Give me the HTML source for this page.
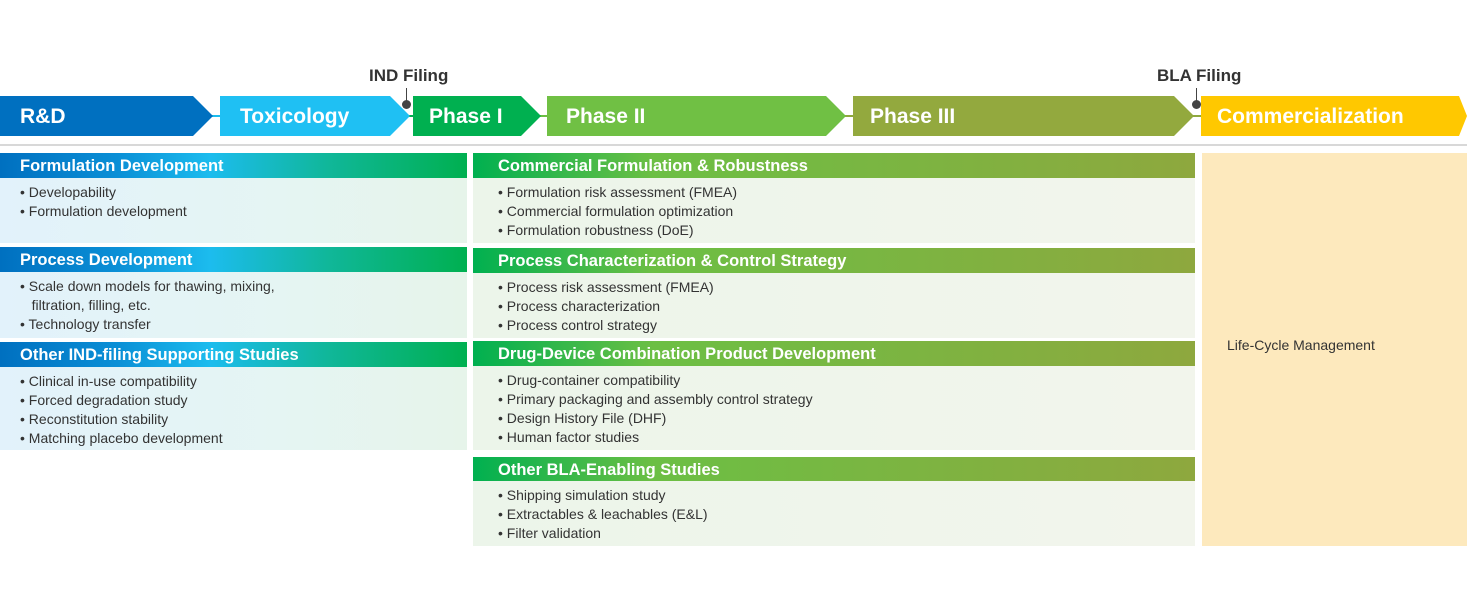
<!DOCTYPE html>
<html><head><meta charset="utf-8"><style>
*{margin:0;padding:0;box-sizing:border-box}
body{width:1467px;height:613px;background:#fff;position:relative;overflow:hidden;font-family:"Liberation Sans",sans-serif}
.a{position:absolute;top:96px;height:40px;color:#fff;font-weight:bold;font-size:21px;line-height:42px}
.ln{position:absolute;top:115px;height:2px}
.h{position:absolute;height:25px;color:#fff;font-weight:bold;font-size:16.5px;line-height:26px;padding-left:20px;white-space:nowrap}
.L{left:0;width:467px;background:linear-gradient(90deg,#0070c0 0%,#0a8fd6 25%,#1cbcee 45%,#10b79a 70%,#00b050 100%)}
.R{left:473px;width:722px;padding-left:25px;background:linear-gradient(90deg,#00b050 0%,#6cbf44 25%,#8ea83e 100%)}
.b{position:absolute;font-size:14px;line-height:19px;color:#333;padding-top:5px;white-space:nowrap}
.bl{left:0;width:467px;padding-left:20px;background:linear-gradient(90deg,#e2f2fb,#e5f5f3 60%,#e6f4ea)}
.br{left:473px;width:722px;padding-left:25px;background:linear-gradient(90deg,#ecf5ea,#f2f5ec)}
.f{position:absolute;font-weight:bold;font-size:17px;color:#333}
.d{position:absolute;width:9px;height:9px;border-radius:50%;background:#444}
.v{position:absolute;width:1px;background:#444}
</style></head><body>
<div class="ln" style="left:205px;width:20px;background:#1cbcee"></div>
<div class="ln" style="left:400px;width:20px;background:#00b050"></div>
<div class="ln" style="left:532px;width:20px;background:#6cbf44"></div>
<div class="ln" style="left:838px;width:20px;background:#8ea83e"></div>
<div class="ln" style="left:1186px;width:20px;background:#8ea83e"></div>
<div class="a" style="left:0;width:213px;background:#0070c0;clip-path:polygon(0 0,193px 0,213px 20px,193px 40px,0 40px);padding-left:20px">R&amp;D</div>
<div class="a" style="left:220px;width:190px;background:#1fc0f3;clip-path:polygon(0 0,170px 0,190px 20px,170px 40px,0 40px);padding-left:20px">Toxicology</div>
<div class="a" style="left:413px;width:128px;background:#00b050;clip-path:polygon(0 0,108px 0,128px 20px,108px 40px,0 40px);padding-left:16px">Phase I</div>
<div class="a" style="left:547px;width:299px;background:#70c044;clip-path:polygon(0 0,279px 0,299px 20px,279px 40px,0 40px);padding-left:19px">Phase II</div>
<div class="a" style="left:853px;width:341px;background:#93a93e;clip-path:polygon(0 0,321px 0,341px 20px,321px 40px,0 40px);padding-left:17px">Phase III</div>
<div class="a" style="left:1201px;width:266px;background:#ffc800;clip-path:polygon(0 0,258px 0,266px 20px,258px 40px,0 40px);padding-left:16px">Commercialization</div>
<div class="f" style="left:369px;top:66px">IND Filing</div>
<div class="v" style="left:406px;top:88px;height:14px"></div>
<div class="d" style="left:402px;top:100px"></div>
<div class="f" style="left:1157px;top:66px">BLA Filing</div>
<div class="v" style="left:1196px;top:88px;height:14px"></div>
<div class="d" style="left:1192px;top:100px"></div>
<div style="position:absolute;left:0;top:144px;width:1467px;height:2px;background:#d8d8d8"></div>

<div class="h L" style="top:153px">Formulation Development</div>
<div class="b bl" style="top:178px;height:65px">• Developability<br>• Formulation development</div>
<div class="h L" style="top:247px">Process Development</div>
<div class="b bl" style="top:272px;height:66px">• Scale down models for thawing, mixing,<br>&nbsp;&nbsp;&nbsp;filtration, filling, etc.<br>• Technology transfer</div>
<div class="h L" style="top:342px">Other IND-filing Supporting Studies</div>
<div class="b bl" style="top:367px;height:83px">• Clinical in-use compatibility<br>• Forced degradation study<br>• Reconstitution stability<br>• Matching placebo development</div>

<div class="h R" style="top:153px">Commercial Formulation &amp; Robustness</div>
<div class="b br" style="top:178px;height:65px">• Formulation risk assessment (FMEA)<br>• Commercial formulation optimization<br>• Formulation robustness (DoE)</div>
<div class="h R" style="top:248px">Process Characterization &amp; Control Strategy</div>
<div class="b br" style="top:273px;height:65px">• Process risk assessment (FMEA)<br>• Process characterization<br>• Process control strategy</div>
<div class="h R" style="top:341px">Drug-Device Combination Product Development</div>
<div class="b br" style="top:366px;height:84px">• Drug-container compatibility<br>• Primary packaging and assembly control strategy<br>• Design History File (DHF)<br>• Human factor studies</div>
<div class="h R" style="top:457px">Other BLA-Enabling Studies</div>
<div class="b br" style="top:481px;height:65px">• Shipping simulation study<br>• Extractables &amp; leachables (E&amp;L)<br>• Filter validation</div>

<div style="position:absolute;left:1202px;top:153px;width:265px;height:393px;background:#fde9bd"></div>
<div style="position:absolute;left:1227px;top:337px;font-size:14px;color:#333">Life-Cycle Management</div>
</body></html>
